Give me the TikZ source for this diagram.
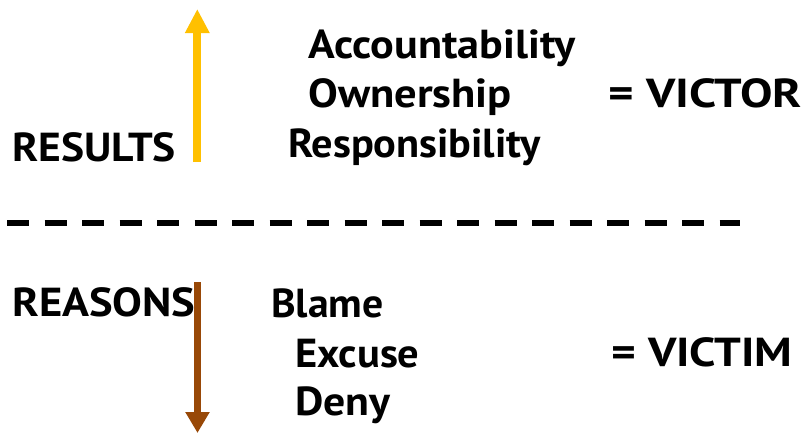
\documentclass[tikz,border=0pt]{standalone}
\usepackage{fontspec}
\setmainfont{PT Sans}
\usetikzlibrary{arrows.meta}
\definecolor{gold}{HTML}{FFC000}
\definecolor{rust}{HTML}{984807}
\newcommand{\wid}[2]{\scalebox{#1}[1]{#2}}
\tikzset{
  word/.style={anchor=base west, inner sep=0pt, font=\bfseries\fontsize{40.5}{40.5}\selectfont},
  divider/.style={line width=5.5pt, dash pattern=on 22pt off 15.5pt},
  uparrow/.style={line width=8pt, draw=gold, -{Triangle[width=23pt,length=24pt,fill=gold]}},
  downarrow/.style={line width=7.5pt, draw=rust, -{Triangle[width=23pt,length=21pt,fill=rust]}}
}
\begin{document}
\begin{tikzpicture}[x=1pt,y=-1pt]
\useasboundingbox (0,0) rectangle (804,432);
% upper block
\node[word] (results) at (12,161) {\wid{1.075}{RESULTS}};
\node[word] (acc) at (308,58) {\wid{1.09}{Accountability}};
\node[word] (own) at (308,107) {\wid{1.10}{Ownership}};
\node[word] (resp) at (288,157) {\wid{1.045}{Responsibility}};
\node[word] (victor) at (608,107) {\wid{1.20}{= VICTOR}};
% divider
\coordinate (dl) at (7,223);
\coordinate (dr) at (740,223);
\draw[divider] (dl) -- (dr);
% lower block
\node[word] (reasons) at (12,316) {\wid{1.10}{REASONS}};
\node[word] (blame) at (271,317) {\wid{1.03}{Blame}};
\node[word] (excuse) at (295,367) {\wid{1.05}{Excuse}};
\node[word] (deny) at (295,415) {\wid{1.08}{Deny}};
\node[word] (victim) at (611,366) {\wid{1.165}{= VICTIM}};
% arrows
\coordinate (ytail) at (197.3,162);
\coordinate (ytip) at (197.3,9);
\draw[uparrow] (ytail) -- (ytip);
\coordinate (btail) at (197.5,282);
\coordinate (btip) at (197.5,433);
\draw[downarrow] (btail) -- (btip);
\end{tikzpicture}
\end{document}
